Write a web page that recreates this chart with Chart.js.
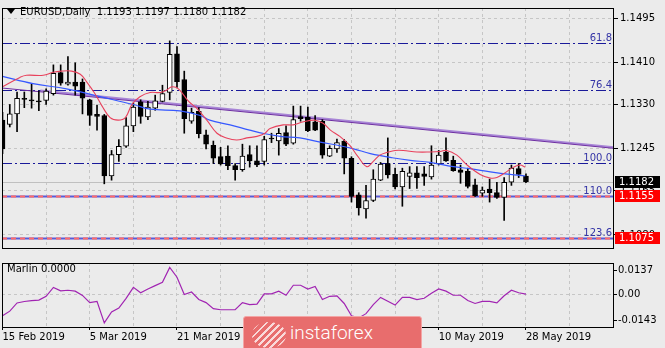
<!DOCTYPE html>
<html>
<head>
<meta charset="utf-8">
<script src="https://cdn.jsdelivr.net/npm/chart.js@4/dist/chart.umd.min.js"></script>
<style>
  body { margin: 0; background: #ebebeb; width: 665px; height: 348px; overflow: hidden; position: relative; font-family: "DejaVu Sans", sans-serif; }
  #main { position: absolute; left: 0; top: 0; }
  #sub { position: absolute; left: 0; top: 256px; }
  .txt { position: absolute; font-size: 10px; color: #000; white-space: pre; line-height: 12px; }
  .tri { position: absolute; left: 7px; top: 9px; width: 0; height: 0; border-left: 4px solid transparent; border-right: 4px solid transparent; border-top: 5px solid #000; }
  #wm { position: absolute; left: 243px; top: 316px; width: 177px; height: 40px; background: #e86d6d; border: 1px solid #f3a5a5; border-radius: 3px; }
  #wmLogo { position: absolute; left: 8px; top: 5px; width: 34px; height: 26px; border-radius: 50%;
    background: repeating-linear-gradient(135deg, rgba(255,255,255,0.75) 0 2px, rgba(255,255,255,0) 2px 5px); }
  #wmText { position: absolute; left: 46px; top: 4px; font-family: Roboto, sans-serif; font-weight: 300; font-size: 19px; color: #fff; line-height: 24px; }
</style>
</head>
<body>
<canvas id="main" width="665" height="256"></canvas>
<canvas id="sub" width="665" height="92"></canvas>
<div class="tri"></div>
<div class="txt" style="left:20px;top:6px;">EURUSD,Daily  1.1193 1.1197 1.1180 1.1182</div>
<div class="txt" style="left:7px;top:263px;">Marlin 0.0000</div>
<div id="wm"><div id="wmLogo"></div><div id="wmText">instaforex</div></div>
<script>
// price axis / time axis
const priceTicks = [1.1495, 1.1410, 1.1330, 1.1245, 1.1165, 1.1080];
const gridBars = [0, 6, 12, 18, 24, 30, 36, 42, 48, 54, 60, 66, 72, 78, 84];
const dateBars = [0, 12, 24, 36, 48, 60, 72];
const dateText = ['15 Feb 2019', '5 Mar 2019', '21 Mar 2019', '8 Apr 2019', '24 Apr 2019', '10 May 2019', '28 May 2019'];

// daily candles, 15 Feb .. 28 May 2019
const opens = [1.1300, 1.1292, 1.1312, 1.1342, 1.1339, 1.1337, 1.1338, 1.1351, 1.1391, 1.1369,
  1.1373, 1.1373, 1.1339, 1.1311, 1.1309, 1.1193, 1.1234, 1.1250, 1.1289, 1.1335,
  1.1306, 1.1323, 1.1336, 1.1353, 1.1427, 1.1378, 1.1298, 1.1317, 1.1272, 1.1252,
  1.1230, 1.1231, 1.1213, 1.1205, 1.1234, 1.1222, 1.1221, 1.1265, 1.1260, 1.1276,
  1.1256, 1.1307, 1.1306, 1.1297, 1.1298, 1.1231, 1.1245, 1.1260, 1.1227, 1.1157,
  1.1130, 1.1146, 1.1185, 1.1217, 1.1196, 1.1172, 1.1192, 1.1199, 1.1197, 1.1191,
  1.1216, 1.1239, 1.1223, 1.1205, 1.1202, 1.1176, 1.1160, 1.1168, 1.1161, 1.1152,
  1.1181, 1.1207, 1.1193];
const highs = [1.1315, 1.1330, 1.1354, 1.1354, 1.1370, 1.1356, 1.1360, 1.1406, 1.1406, 1.1422,
  1.1410, 1.1379, 1.1340, 1.1329, 1.1311, 1.1242, 1.1263, 1.1305, 1.1333, 1.1339,
  1.1336, 1.1348, 1.1367, 1.1452, 1.1441, 1.1394, 1.1323, 1.1324, 1.1281, 1.1260,
  1.1248, 1.1251, 1.1217, 1.1254, 1.1251, 1.1251, 1.1269, 1.1275, 1.1284, 1.1289,
  1.1327, 1.1327, 1.1325, 1.1309, 1.1301, 1.1251, 1.1264, 1.1263, 1.1230, 1.1161,
  1.1175, 1.1205, 1.1219, 1.1266, 1.1208, 1.1208, 1.1211, 1.1211, 1.1211, 1.1251,
  1.1242, 1.1266, 1.1231, 1.1214, 1.1208, 1.1187, 1.1172, 1.1187, 1.1181, 1.1190,
  1.1214, 1.1217, 1.1197];
const lows = [1.1236, 1.1287, 1.1278, 1.1324, 1.1323, 1.1318, 1.1330, 1.1348, 1.1367, 1.1367,
  1.1348, 1.1312, 1.1290, 1.1281, 1.1178, 1.1185, 1.1221, 1.1248, 1.1278, 1.1294,
  1.1301, 1.1319, 1.1335, 1.1339, 1.1363, 1.1275, 1.1294, 1.1266, 1.1245, 1.1217,
  1.1214, 1.1205, 1.1185, 1.1202, 1.1210, 1.1211, 1.1214, 1.1257, 1.1233, 1.1251,
  1.1254, 1.1298, 1.1278, 1.1280, 1.1227, 1.1230, 1.1238, 1.1197, 1.1143, 1.1118,
  1.1112, 1.1144, 1.1184, 1.1189, 1.1168, 1.1135, 1.1169, 1.1169, 1.1175, 1.1187,
  1.1214, 1.1221, 1.1202, 1.1179, 1.1170, 1.1154, 1.1154, 1.1143, 1.1150, 1.1108,
  1.1175, 1.1190, 1.1180];
const closes = [1.1245, 1.1312, 1.1342, 1.1340, 1.1337, 1.1335, 1.1356, 1.1390, 1.1371, 1.1373,
  1.1365, 1.1342, 1.1309, 1.1307, 1.1193, 1.1234, 1.1250, 1.1289, 1.1325, 1.1307,
  1.1325, 1.1337, 1.1351, 1.1426, 1.1374, 1.1303, 1.1315, 1.1274, 1.1254, 1.1227,
  1.1216, 1.1213, 1.1205, 1.1231, 1.1222, 1.1214, 1.1263, 1.1264, 1.1275, 1.1254,
  1.1301, 1.1303, 1.1280, 1.1281, 1.1233, 1.1246, 1.1257, 1.1227, 1.1154, 1.1132,
  1.1146, 1.1187, 1.1216, 1.1195, 1.1172, 1.1202, 1.1199, 1.1190, 1.1192, 1.1214,
  1.1233, 1.1222, 1.1203, 1.1200, 1.1173, 1.1155, 1.1166, 1.1161, 1.1152, 1.1181,
  1.1208, 1.1196, 1.1182];

// moving averages (bar position, price)
const redBars = [0.0, 2.4, 3.3, 5.6, 7.0, 8.1, 9.5, 10.7, 11.6, 12.7, 13.7, 14.8, 15.9, 16.9, 17.8, 18.9,
  20.3, 21.7, 22.6, 23.3, 24.2, 25.6, 26.7, 28.1, 29.5, 30.8, 32.2, 33.6, 35.0, 36.1, 36.8, 38.6,
  40.0, 41.4, 43.0, 44.1, 45.1, 46.4, 47.8, 48.9, 50.1, 51.0, 51.9, 53.1, 54.0, 55.1, 57.0, 58.8,
  60.2, 61.1, 62.5, 63.9, 65.7, 67.1, 68.0, 69.1, 70.3, 71.2, 71.9];
const redVals = [1.1364, 1.1382, 1.1386, 1.1386, 1.1392, 1.1394, 1.1394, 1.1388, 1.1373, 1.1351, 1.1327, 1.1305, 1.1300, 1.1305, 1.1330, 1.1345,
  1.1353, 1.1353, 1.1358, 1.1364, 1.1360, 1.1336, 1.1323, 1.1300, 1.1275, 1.1266, 1.1262, 1.1266, 1.1269, 1.1275, 1.1284, 1.1291,
  1.1291, 1.1297, 1.1300, 1.1294, 1.1281, 1.1269, 1.1251, 1.1230, 1.1211, 1.1221, 1.1233, 1.1239, 1.1242, 1.1242, 1.1239, 1.1239,
  1.1240, 1.1242, 1.1233, 1.1214, 1.1196, 1.1189, 1.1190, 1.1199, 1.1210, 1.1214, 1.1210];
const blueBars = [0.0, 4.2, 8.8, 13.4, 18.0, 20.3, 24.4, 27.2, 28.5, 31.3, 34.0, 36.1, 38.2, 40.9, 43.7, 46.4,
  48.3, 50.6, 53.6, 56.1, 58.8, 62.0, 64.3, 67.1, 69.8, 71.9];
const blueVals = [1.1384, 1.1370, 1.1360, 1.1345, 1.1330, 1.1321, 1.1318, 1.1309, 1.1300, 1.1291, 1.1281, 1.1274, 1.1269, 1.1266, 1.1258, 1.1251,
  1.1245, 1.1236, 1.1228, 1.1223, 1.1219, 1.1211, 1.1207, 1.1201, 1.1196, 1.1193];

// Marlin oscillator, one value per bar
const marlin = [-0.0119, -0.0093, -0.0047, -0.0039, -0.0034, -0.0031, -0.0010, 0.0040, 0.0021, 0.0024,
  0.0019, -0.0005, -0.0045, -0.0038, -0.0159, -0.0097, -0.0076, -0.0021, 0.0040, 0.0010,
  0.0031, 0.0050, 0.0069, 0.0152, 0.0097, 0.0000, 0.0014, -0.0028, -0.0045, -0.0079,
  -0.0085, -0.0085, -0.0085, -0.0045, -0.0056, -0.0054, 0.0004, 0.0004, 0.0019, -0.0004,
  0.0052, 0.0052, 0.0031, 0.0045, -0.0028, -0.0010, -0.0007, -0.0050, -0.0119, -0.0131,
  -0.0107, -0.0056, -0.0016, -0.0038, -0.0059, -0.0016, -0.0016, -0.0028, -0.0021, 0.0007,
  0.0031, 0.0019, -0.0004, -0.0004, -0.0033, -0.0050, -0.0038, -0.0038, -0.0047, -0.0007,
  0.0024, 0.0010, 0.0002];
const marlinTicks = [0.0137, 0, -0.0143];

// objects on the chart
const fibText = ['61.8', '76.4', '100.0', '110.0', '123.6'];
const fibPrices = [1.1448, 1.1358, 1.1217, 1.1155, 1.1075];
const redLevels = [1.1155, 1.1075];
const bidPrice = 1.1182;
const trendDark = [[-0.34, 1.1362], [84.1, 1.1246]];
const trendLight = [[5.2, 1.1357], [84.1, 1.1248]];

Chart.defaults.font.family = 'DejaVu Sans';
Chart.defaults.font.size = 10;
Chart.defaults.color = '#000';

const gridGrey = '#c6c6c6';
const bars = opens.map((_, i) => i);

function frame(chart) {
  const a = chart.chartArea, c = chart.ctx;
  c.save();
  c.strokeStyle = '#000';
  c.lineWidth = 1;
  c.strokeRect(a.left + 0.5, a.top + 0.5, a.right - a.left - 1, a.bottom - a.top);
  c.restore();
}

const mainLines = {
  id: 'mainLines',
  beforeDatasetsDraw(chart) {
    const c = chart.ctx, a = chart.chartArea, xs = chart.scales.x, ys = chart.scales.y;
    c.save();
    c.beginPath();
    c.rect(a.left, a.top, a.right - a.left, a.bottom - a.top);
    c.clip();
    // bid line
    let y = Math.round(ys.getPixelForValue(bidPrice)) + 0.5;
    c.strokeStyle = '#c0c0c0';
    c.lineWidth = 1;
    c.beginPath(); c.moveTo(a.left, y); c.lineTo(a.right, y); c.stroke();
    // fibo levels
    fibPrices.forEach(function (p) {
      const yy = Math.round(ys.getPixelForValue(p)) + 0.5;
      const thick = redLevels.includes(p);
      c.strokeStyle = thick ? '#5b5bd6' : '#1a1a9a';
      c.lineWidth = thick ? 2 : 1;
      c.setLineDash(thick ? [] : [10, 3, 2, 3]);
      c.beginPath(); c.moveTo(a.left, yy); c.lineTo(a.right, yy); c.stroke();
    });
    // red horizontal lines
    c.setLineDash([5, 4]);
    c.strokeStyle = '#ff6b6b';
    c.lineWidth = 2;
    redLevels.forEach(function (p) {
      const yy = Math.round(ys.getPixelForValue(p)) + 0.5;
      c.beginPath(); c.moveTo(a.left, yy); c.lineTo(a.right, yy); c.stroke();
    });
    c.setLineDash([]);
    // trend lines
    [[trendLight, '#a886d6', 2], [trendDark, '#6e2ea2', 1]].forEach(function (t) {
      c.strokeStyle = t[1];
      c.lineWidth = t[2];
      c.beginPath();
      c.moveTo(xs.getPixelForValue(t[0][0][0]), ys.getPixelForValue(t[0][0][1]));
      c.lineTo(xs.getPixelForValue(t[0][1][0]), ys.getPixelForValue(t[0][1][1]));
      c.stroke();
    });
    c.restore();
  },
  afterDraw(chart) {
    const c = chart.ctx, a = chart.chartArea, ys = chart.scales.y;
    frame(chart);
    c.save();
    c.font = '10px "DejaVu Sans"';
    // fibo labels
    c.fillStyle = '#3434a6';
    c.textAlign = 'right';
    c.textBaseline = 'alphabetic';
    fibPrices.forEach(function (p, k) {
      c.fillText(fibText[k], a.right - 2, ys.getPixelForValue(p) - 2);
    });
    // price boxes on the axis
    c.textAlign = 'left';
    c.textBaseline = 'middle';
    const boxes = [[bidPrice, '#000000']].concat(redLevels.map(p => [p, '#ff0000']));
    boxes.forEach(function (b) {
      const yy = Math.round(ys.getPixelForValue(b[0]));
      c.fillStyle = b[1];
      c.fillRect(a.right + 1, yy - 6, 45, 12);
      c.fillStyle = '#fff';
      c.fillText(b[0].toFixed(4), a.right + 5, yy + 0.5);
    });
    c.restore();
  }
};

new Chart(document.getElementById('main'), {
  type: 'bar',
  data: {
    datasets: [
      {
        type: 'line', data: redBars.map((b, k) => ({x: b, y: redVals[k]})),
        borderColor: '#e8415c', borderWidth: 1.1, pointRadius: 0, tension: 0.4, order: 0
      },
      {
        type: 'line', data: blueBars.map((b, k) => ({x: b, y: blueVals[k]})),
        borderColor: '#3658ff', borderWidth: 1.2, pointRadius: 0, tension: 0.4, order: 1
      },
      {
        type: 'bar', data: bars.map(i => ({x: i, y: [opens[i], closes[i]]})),
        backgroundColor: bars.map(i => closes[i] > opens[i] ? '#ffffff' : '#000000'),
        borderColor: '#000', borderWidth: 1, borderSkipped: false,
        barThickness: 5, minBarLength: 1, grouped: false, order: 2
      },
      {
        type: 'bar', data: bars.map(i => ({x: i, y: [lows[i], highs[i]]})),
        backgroundColor: '#000', barThickness: 1, grouped: false, order: 3
      }
    ]
  },
  options: {
    responsive: false,
    animation: false,
    layout: {padding: {left: 2, top: 2, right: 0, bottom: 2}},
    plugins: {legend: {display: false}, tooltip: {enabled: false}},
    scales: {
      x: {
        type: 'linear', min: -0.07, max: 84.11, offset: false,
        afterBuildTicks: s => { s.ticks = gridBars.map(v => ({value: v})); },
        afterFit: s => { s.height = 0; },
        ticks: {display: false},
        grid: {color: gridGrey, drawTicks: false, offset: false},
        border: {display: false, dash: [3, 3]}
      },
      y: {
        position: 'right', min: 1.1055, max: 1.1515,
        afterBuildTicks: s => { s.ticks = priceTicks.map(v => ({value: v})); },
        afterFit: s => { s.width = 51; },
        ticks: {padding: 2, callback: v => v.toFixed(4)},
        grid: {color: gridGrey, tickColor: '#000', tickLength: 4},
        border: {display: false, dash: [3, 3]}
      }
    }
  },
  plugins: [mainLines]
});

new Chart(document.getElementById('sub'), {
  type: 'line',
  data: {
    datasets: [{
      data: marlin.map((v, i) => ({x: i, y: v})),
      borderColor: '#a124b2', borderWidth: 1.2, pointRadius: 0, tension: 0
    }]
  },
  options: {
    responsive: false,
    animation: false,
    layout: {padding: {left: 2, top: 2, right: 0, bottom: 0}},
    plugins: {legend: {display: false}, tooltip: {enabled: false}},
    scales: {
      x: {
        type: 'linear', min: -0.07, max: 84.11, offset: false,
        afterBuildTicks: s => { s.ticks = gridBars.map(v => ({value: v})); },
        afterFit: s => { s.height = 21; },
        ticks: {
          align: 'start', autoSkip: false, maxRotation: 0, padding: 1,
          callback: v => { const k = dateBars.indexOf(v); return k < 0 ? '' : dateText[k]; }
        },
        grid: {
          color: gridGrey, tickLength: 3,
          tickColor: ctx => dateBars.includes(ctx.tick.value) ? '#000' : 'rgba(0,0,0,0)'
        },
        border: {display: false, dash: [3, 3]}
      },
      y: {
        position: 'right', min: -0.018165, max: 0.017646,
        afterBuildTicks: s => { s.ticks = marlinTicks.map(v => ({value: v})); },
        afterFit: s => { s.width = 51; },
        ticks: {padding: 1, callback: v => v === 0 ? '0.00' : v.toFixed(4)},
        grid: {
          color: ctx => ctx.tick.value === 0 ? gridGrey : 'rgba(0,0,0,0)',
          tickColor: '#000', tickLength: 3
        },
        border: {display: false, dash: [3, 3]}
      }
    }
  },
  plugins: [{id: 'subFrame', afterDraw: frame}]
});
</script>
</body>
</html>
